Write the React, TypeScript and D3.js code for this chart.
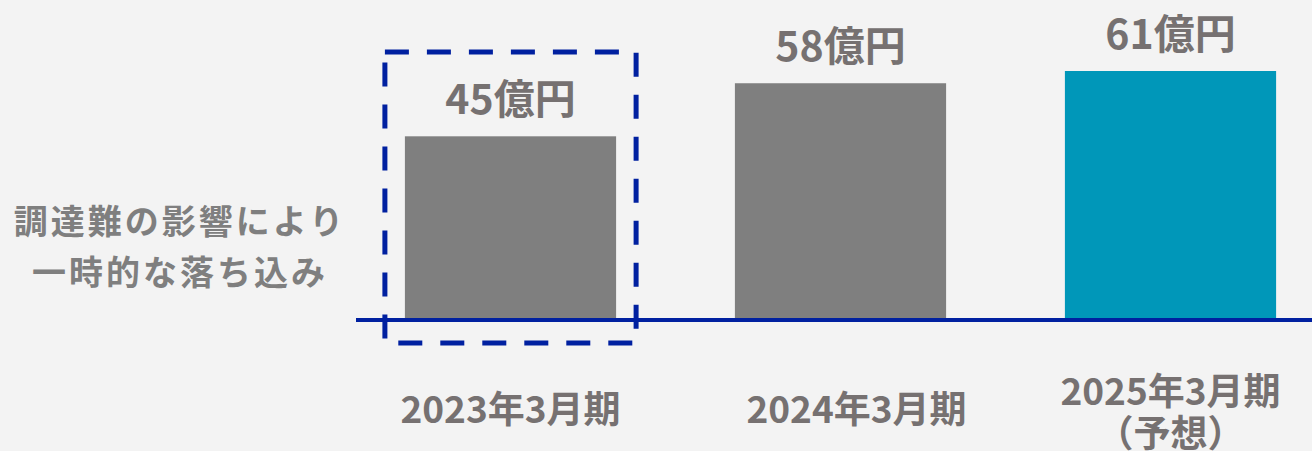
import { useEffect, useRef } from 'react';
import * as d3 from 'd3';

const periods = ['2023年3月期', '2024年3月期', '2025年3月期'];
const periodNotes = ['', '', '（予想）'];
const sales = [45, 58, 61];
const salesLabels = ['45億円', '58億円', '61億円'];
const barColors = ['#7f7f7f', '#7f7f7f', '#0097b9'];
const noteLines = ['調達難の影響により', '一時的な落ち込み'];

const WIDTH = 1312;
const HEIGHT = 451;
const FONT = '"Noto Sans CJK JP", "Noto Sans", sans-serif';

export default function App() {
  const svgRef = useRef<SVGSVGElement>(null);

  useEffect(() => {
    if (!svgRef.current) return;
    const svg = d3.select(svgRef.current);
    svg.selectAll('*').remove();

    const baseY = 320;

    const x = d3.scaleBand<string>()
      .domain(periods)
      .range([345.5, 1335.5])
      .paddingInner(0.36)
      .paddingOuter(0.18);

    const y = d3.scaleLinear()
      .domain([0, 61])
      .range([baseY, 71]);

    svg.append('rect')
      .attr('width', WIDTH)
      .attr('height', HEIGHT)
      .attr('fill', '#f3f3f3');

    const g = svg.append('g');

    // Bars
    g.selectAll('rect.bar')
      .data(sales)
      .join('rect')
      .attr('class', 'bar')
      .attr('x', (_, i) => x(periods[i]) || 0)
      .attr('y', d => y(d))
      .attr('width', x.bandwidth())
      .attr('height', d => baseY - y(d))
      .attr('fill', (_, i) => barColors[i]);

    // Value labels
    g.selectAll('text.value')
      .data(sales)
      .join('text')
      .attr('class', 'value')
      .attr('x', (_, i) => (x(periods[i]) || 0) + x.bandwidth() / 2)
      .attr('y', d => y(d) - 22)
      .attr('text-anchor', 'middle')
      .style('font-family', FONT)
      .style('font-weight', 700)
      .style('font-size', '41px')
      .style('fill', '#767171')
      .text((_, i) => salesLabels[i]);

    // Baseline
    g.append('line')
      .attr('x1', 356)
      .attr('x2', WIDTH)
      .attr('y1', baseY)
      .attr('y2', baseY)
      .attr('stroke', '#0020a0')
      .attr('stroke-width', 4);

    // Highlight box around first period
    const x0 = x(periods[0]) || 0;
    g.append('rect')
      .attr('x', x0 - 20)
      .attr('y', 52)
      .attr('width', x.bandwidth() + 40)
      .attr('height', 291)
      .attr('fill', 'none')
      .attr('stroke', '#0020a0')
      .attr('stroke-width', 5)
      .attr('stroke-dasharray', '24 18');

    // Category labels
    const cat = g.selectAll('g.cat')
      .data(periods)
      .join('g')
      .attr('class', 'cat')
      .attr('transform', d => `translate(${(x(d) || 0) + x.bandwidth() / 2},0)`);

    cat.append('text')
      .attr('x', (_, i) => (i === 1 ? 16 : 0))
      .attr('y', (_, i) => (periodNotes[i] ? 405 : 423))
      .attr('text-anchor', 'middle')
      .style('font-family', FONT)
      .style('font-weight', 700)
      .style('font-size', '37px')
      .style('fill', '#767171')
      .text(d => d);

    cat.filter((_, i) => !!periodNotes[i])
      .append('text')
      .attr('y', 447)
      .attr('text-anchor', 'middle')
      .style('font-family', FONT)
      .style('font-weight', 700)
      .style('font-size', '37px')
      .style('fill', '#767171')
      .text(periodNotes[2]);

    // Note on the left
    g.selectAll('text.note')
      .data(noteLines)
      .join('text')
      .attr('class', 'note')
      .attr('x', 180)
      .attr('y', (_, i) => 234 + i * 51)
      .attr('text-anchor', 'middle')
      .style('font-family', FONT)
      .style('font-weight', 700)
      .style('font-size', '34px')
      .style('letter-spacing', '3px')
      .style('fill', '#7f7f7f')
      .text(d => d);
  }, []);

  return (
    <>
      <style>{'body{margin:0;}'}</style>
      <svg ref={svgRef} width={WIDTH} height={HEIGHT} style={{ display: 'block' }} />
    </>
  );
}
